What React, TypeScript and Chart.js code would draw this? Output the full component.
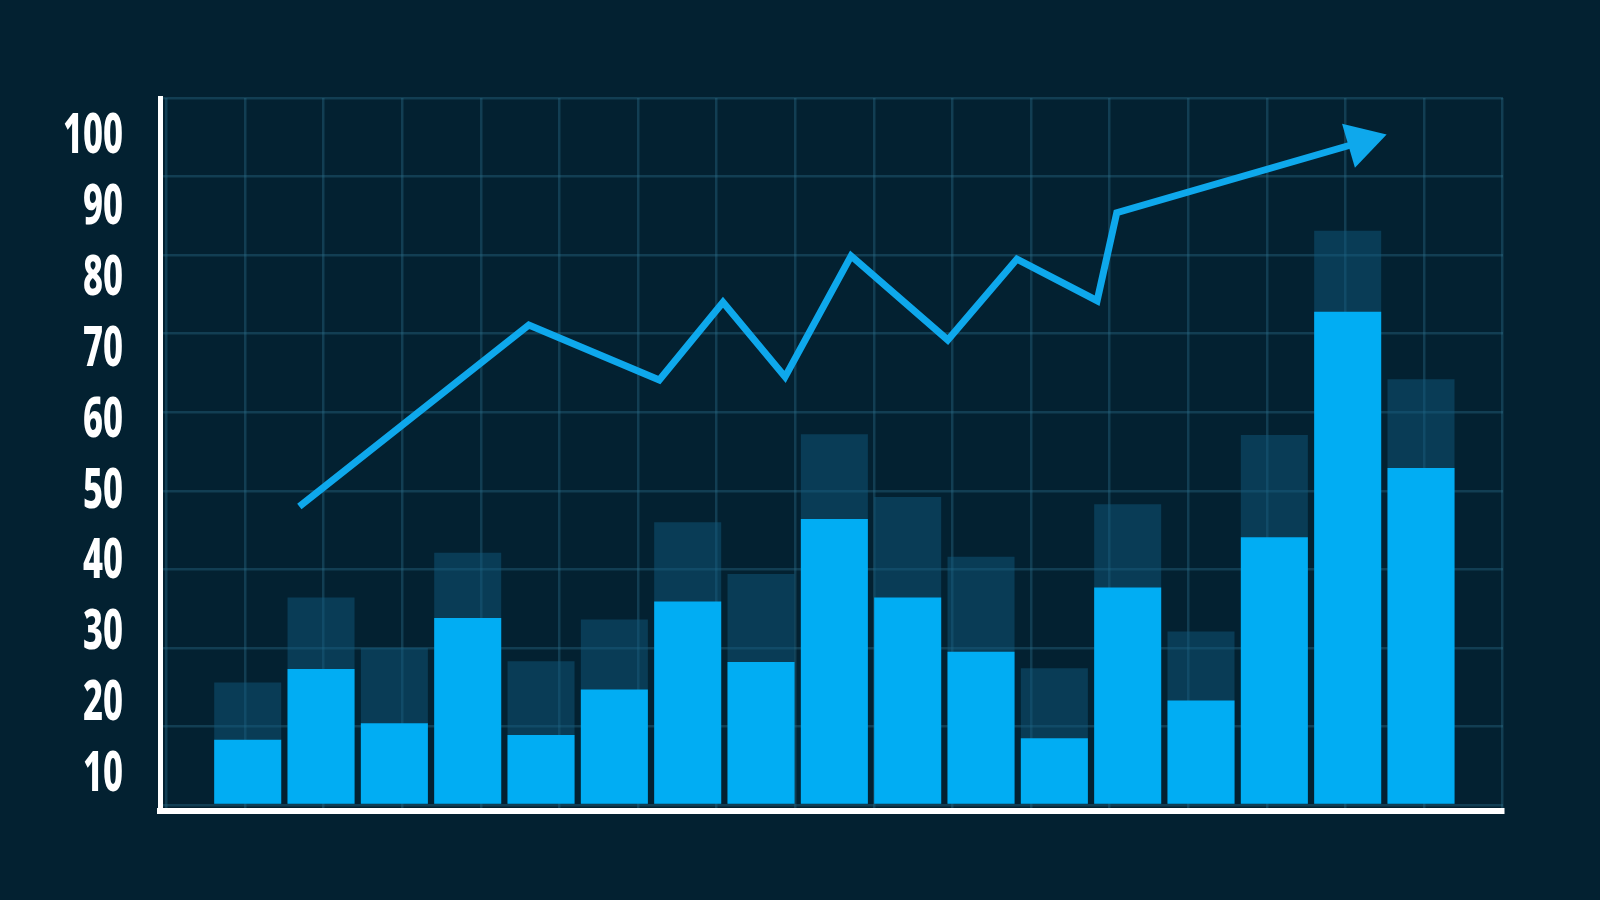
import React, { useEffect, useRef } from 'react';
import { Chart, registerables } from 'chart.js';

Chart.register(...registerables);

// bar categories (index positions)
const categories = [1, 2, 3, 4, 5, 6, 7, 8, 9, 10, 11, 12, 13, 14, 15, 16, 17];
// bright (current) bar values, in grid units (one grid cell = 10)
const brightValues = [8.3, 17.3, 10.4, 23.8, 8.9, 14.7, 25.9, 18.2, 36.4, 26.4, 19.5, 8.5, 27.7, 13.3, 34.1, 62.8, 42.9];
// translucent (target) bar values
const darkValues = [15.6, 26.4, 20.0, 32.1, 18.3, 23.6, 36.0, 29.4, 47.2, 39.2, 31.6, 17.4, 38.3, 22.1, 47.1, 73.1, 54.2];
// trend line vertices (x in grid cells, y in grid units)
const lineX = [1.69, 4.61, 6.27, 7.08, 7.87, 8.71, 9.94, 10.82, 11.84, 12.09, 15.2];
const lineY = [38.0, 61.1, 54.1, 64.0, 54.5, 69.9, 59.2, 69.5, 64.2, 75.4, 84.4];
// printed axis labels
const yLabels = [10, 20, 30, 40, 50, 60, 70, 80, 90, 100];
// grid ticks
const gridYTicks = [0, 10, 20, 30, 40, 50, 60, 70, 80, 90];
const gridXTicks = [0, 1, 2, 3, 4, 5, 6, 7, 8, 9, 10, 11, 12, 13, 14, 15, 16, 17];

const BG = '#032131';
const BAR = '#01adf3';
const LINE = '#0ea8ec';
const DARK = 'rgba(16, 92, 128, 0.47)';
const GRID = 'rgba(45, 110, 140, 0.38)';
const LABEL_PAD = 37;
const LABEL_SQUEEZE = 0.63;

// Narrows the printed y labels (no condensed face is installed), keeping them right-aligned.
const condenseLabels = {
  id: 'condenseLabels',
  afterLayout(chart: any) {
    const s = chart.scales.yl;
    if (!s || s.__condensed) return;
    const orig = s.drawLabels.bind(s);
    s.drawLabels = function (area: any) {
      const ctx = this.ctx;
      const xr = this.right - LABEL_PAD;
      ctx.save();
      ctx.translate(xr, 0);
      ctx.scale(LABEL_SQUEEZE, 1);
      ctx.translate(-xr, 0);
      orig(area);
      ctx.restore();
    };
    s.__condensed = true;
  },
};

export default function App() {
  const canvasRef = useRef<HTMLCanvasElement | null>(null);

  useEffect(() => {
    document.body.style.margin = '0';
    document.body.style.background = BG;
    const canvas = canvasRef.current;
    if (!canvas) return;

    const lastIdx = lineX.length - 1;
    const chart = new Chart(canvas, {
      type: 'bar',
      plugins: [condenseLabels],
      data: {
        datasets: [
          {
            type: 'line',
            label: 'trend',
            data: lineX.map((x, i) => ({ x, y: lineY[i] })),
            xAxisID: 'gx',
            yAxisID: 'y',
            borderColor: LINE,
            borderWidth: 7,
            borderJoinStyle: 'miter',
            borderCapStyle: 'butt',
            tension: 0,
            fill: false,
            pointStyle: 'triangle',
            pointRadius: lineX.map((_, i) => (i === lastIdx ? 26.5 : 0)),
            pointRotation: lineX.map((_, i) => (i === lastIdx ? 73.7 : 0)),
            pointBackgroundColor: LINE,
            pointBorderColor: LINE,
            pointBorderWidth: 0,
            clip: false,
          } as any,
          {
            type: 'bar',
            label: 'current',
            data: categories.map((c, i) => ({ x: c, y: brightValues[i] })),
            xAxisID: 'x',
            yAxisID: 'y',
            backgroundColor: BAR,
            borderWidth: 0,
            grouped: false,
            barPercentage: 0.914,
            categoryPercentage: 1,
          } as any,
          {
            type: 'bar',
            label: 'target',
            data: categories.map((c, i) => ({ x: c, y: darkValues[i] })),
            xAxisID: 'x',
            yAxisID: 'y',
            backgroundColor: DARK,
            borderWidth: 0,
            grouped: false,
            barPercentage: 0.914,
            categoryPercentage: 1,
          } as any,
        ],
      },
      options: {
        responsive: false,
        animation: false,
        events: [],
        layout: { padding: { left: 0, top: 98, right: 97, bottom: 89 } },
        plugins: { legend: { display: false }, tooltip: { enabled: false } },
        scales: {
          x: {
            type: 'linear',
            display: false,
            offset: false,
            min: -0.196,
            max: 18.118,
            grid: { offset: false },
          },
          gx: {
            type: 'linear',
            position: 'bottom',
            offset: false,
            min: -0.0827,
            max: 17.004,
            afterBuildTicks: (s: any) => {
              s.ticks = gridXTicks.map((v) => ({ value: v }));
            },
            afterFit: (s: any) => {
              s.height = 0;
            },
            ticks: { display: false },
            grid: { color: GRID, lineWidth: 2.5, drawTicks: false, offset: false },
            border: { display: true, color: '#ffffff', width: 6 },
          },
          y: {
            type: 'linear',
            position: 'right',
            min: -0.7638,
            max: 90,
            afterBuildTicks: (s: any) => {
              s.ticks = gridYTicks.map((v) => ({ value: v }));
            },
            afterFit: (s: any) => {
              s.width = 0;
            },
            ticks: { display: false },
            grid: { color: GRID, lineWidth: 2.5, drawTicks: false },
            border: { display: false },
          },
          yl: {
            type: 'linear',
            position: 'left',
            min: 4.95,
            max: 105.6,
            afterBuildTicks: (s: any) => {
              s.ticks = yLabels.map((v) => ({ value: v }));
            },
            afterFit: (s: any) => {
              s.width = 160;
            },
            ticks: {
              autoSkip: false,
              padding: LABEL_PAD,
              color: '#ffffff',
              font: {
                family: "'Noto Sans', 'Open Sans', sans-serif",
                size: 55,
                weight: '800',
              },
            },
            grid: { display: true, color: 'rgba(0,0,0,0)', lineWidth: 1, drawTicks: false },
            border: { display: true, color: '#ffffff', width: 5 },
          },
        },
      } as any,
    });

    return () => {
      chart.destroy();
    };
  }, []);

  return (
    <div style={{ width: 1600, height: 900, background: BG, position: 'relative' }}>
      <canvas ref={canvasRef} width={1600} height={900} style={{ display: 'block', width: 1600, height: 900 }} />
    </div>
  );
}
